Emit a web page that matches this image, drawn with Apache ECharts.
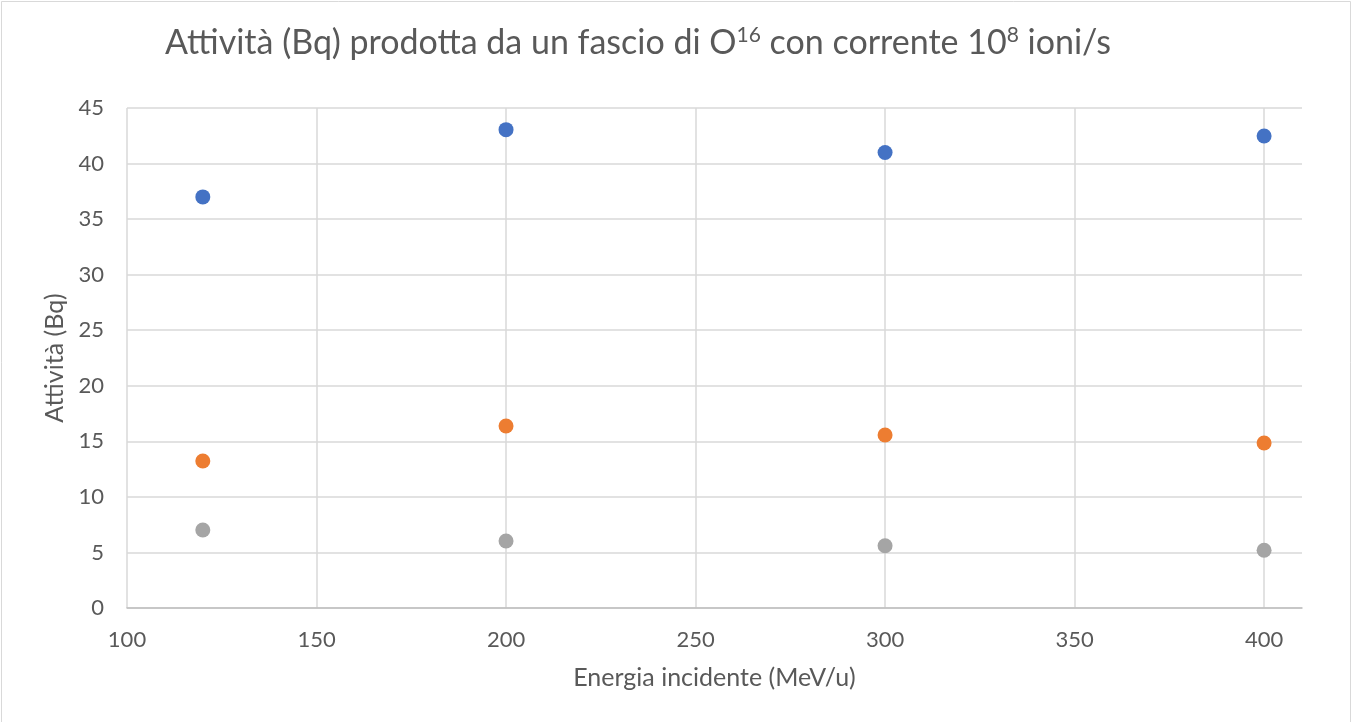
<!DOCTYPE html>
<html>
<head>
<meta charset="utf-8">
<script src="https://cdn.jsdelivr.net/npm/echarts@6/dist/echarts.min.js"></script>
<style>
  html, body { margin: 0; padding: 0; background: #fff; }
  #chart { width: 1353px; height: 722px; }
</style>
</head>
<body>
<div id="chart"></div>
<script>
const energies = [120, 200, 300, 400];
const seriesBlue = [37.0, 43.05, 41.0, 42.48];
const seriesOrange = [13.23, 16.38, 15.57, 14.85];
const seriesGray = [7.02, 6.03, 5.6, 5.2];
const seriesNames = ['Serie 1', 'Serie 2', 'Serie 3'];
const titleText = 'Attività (Bq) prodotta da un fascio di O{sup|16} con corrente 10{sup|8} ioni/s';
const xAxisName = 'Energia incidente (MeV/u)';
const yAxisName = 'Attività (Bq)';

const FONT = 'Lato, "Open Sans", sans-serif';
const TEXT = '#595959';

function pairs(ys) { return energies.map((x, i) => [x, ys[i]]); }

const chart = echarts.init(document.getElementById('chart'));
const gridColors = ['#d9d9d9','#d9d9d9','#d9d9d9','#d9d9d9','#d9d9d9','#d9d9d9','#d9d9d9','rgba(0,0,0,0)'];

chart.setOption({
  backgroundColor: '#fff',
  animation: false,
  title: {
    text: titleText,
    left: 160,
    top: 20,
    textStyle: {
      color: TEXT, fontFamily: FONT, fontSize: 34, fontWeight: 'normal',
      rich: {
        sup: { color: TEXT, fontFamily: FONT, fontSize: 21, padding: [0, 0, 15, 0] }
      }
    }
  },
  grid: { left: 127, right: 51, top: 108, bottom: 114, containLabel: false },
  xAxis: {
    type: 'value', min: 100, max: 410, interval: 50,
    name: xAxisName, nameLocation: 'middle', nameGap: 57,
    nameTextStyle: { color: TEXT, fontFamily: FONT, fontSize: 25 },
    axisLine: { show: true, lineStyle: { color: '#bfbfbf', width: 1.5 } },
    axisTick: { show: false },
    axisLabel: {
      color: TEXT, fontFamily: FONT, fontSize: 22, margin: 21,
      formatter: v => (v % 50 === 0 ? String(v) : '')
    },
    splitLine: { show: true, lineStyle: { color: gridColors, width: 1.5 } }
  },
  yAxis: {
    type: 'value', min: 0, max: 45, interval: 5,
    name: yAxisName, nameLocation: 'middle', nameGap: 54, nameRotate: 90,
    nameTextStyle: { color: TEXT, fontFamily: FONT, fontSize: 25 },
    axisLine: { show: false },
    axisTick: { show: false },
    axisLabel: { color: TEXT, fontFamily: FONT, fontSize: 22, margin: 23 },
    splitLine: { show: true, lineStyle: { color: '#d9d9d9', width: 1.5 } }
  },
  series: [
    { name: seriesNames[0], type: 'scatter', symbolSize: 15, data: pairs(seriesBlue), itemStyle: { color: '#4472c4', opacity: 1 } },
    { name: seriesNames[1], type: 'scatter', symbolSize: 15, data: pairs(seriesOrange), itemStyle: { color: '#ed7d31', opacity: 1 } },
    { name: seriesNames[2], type: 'scatter', symbolSize: 15, data: pairs(seriesGray), itemStyle: { color: '#a5a5a5', opacity: 1 } }
  ],
  graphic: [
    { type: 'rect', shape: { x: 1.5, y: 1.5, width: 1349, height: 730 }, style: { fill: 'none', stroke: '#d9d9d9', lineWidth: 1 }, silent: true }
  ]
});
</script>
</body>
</html>
